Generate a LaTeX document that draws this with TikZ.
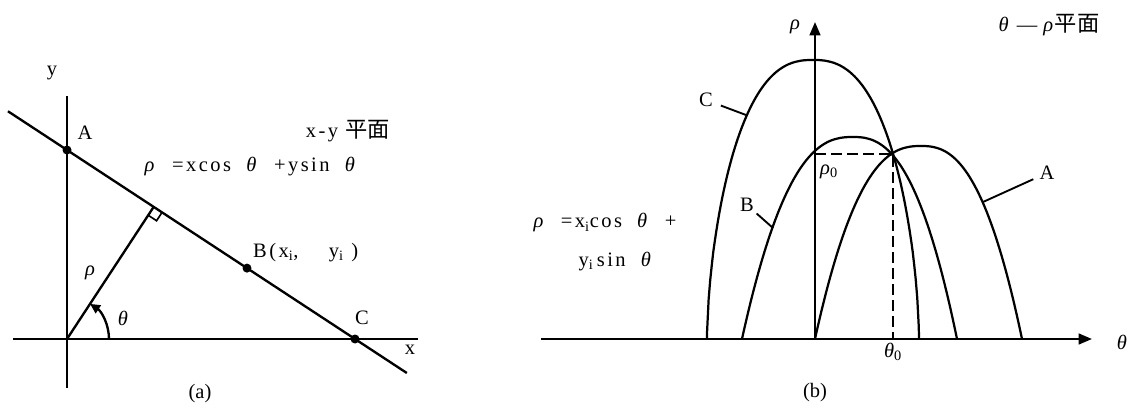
\documentclass[tikz,border=0pt]{standalone}
\usepackage{fontspec}
\setmainfont{Liberation Serif}
\newfontfamily\cjkfont{Noto Sans CJK SC}
\newfontfamily\widefont[LetterSpace=12]{Liberation Serif}
\usetikzlibrary{arrows.meta, calc}

\newcommand{\thet}{\textit{θ}}
\newcommand{\rh}{\textit{ρ}}
\newcommand{\han}[1]{{\cjkfont\fontsize{19}{21}\selectfont #1}}
% one curve of the theta-rho plane: centre, left half, right half, height, exponents p and q
\newcommand{\hump}[6]{%
  \draw[humpline] ({#1-#2},0)
    -- plot[domain=-0.999:-0.002, samples=70] ({#1+#2*\x},{#4*(1-abs(\x)^#5)^#6})
    -- plot[domain=0.002:0.999, samples=70] ({#1+#3*\x},{#4*(1-abs(\x)^#5)^#6})
    -- ({#1+#3},0);}

\begin{document}
\begin{tikzpicture}[x=0.3mm, y=0.3mm,
  stroke/.style={line width=2pt},
  humpline/.style={line width=1.9pt},
  leader/.style={line width=1.6pt},
  axisarrow/.style={stroke, -{Triangle[length=4mm, width=3.2mm]}},
  guide/.style={line width=1.8pt, dash pattern=on 3.3mm off 1.5mm},
  lbl/.style={inner sep=0pt, font=\fontsize{17.5}{20}\selectfont},
]
\useasboundingbox (0,0) rectangle (1131,407);

% (a) x-y plane
\begin{scope}[shift={(67,68)}]
\coordinate (O) at (0,0);
\coordinate (A) at (0,189);
\coordinate (C) at (288,0);
\coordinate (B) at ($(A)!0.625!(C)$);
\coordinate (L1) at ($(A)!-0.205!(C)$);
\coordinate (L2) at ($(A)!1.18!(C)$);
\coordinate (F) at ($(A)!(O)!(C)$);
\coordinate (yb) at (0,-49);
\coordinate (yt) at (0,243);
\coordinate (xl) at (-54,0);
\coordinate (xr) at (351,0);

\draw[stroke] (yb) -- (yt);
\draw[stroke] (xl) -- (xr);
\draw[stroke] (L1) -- (L2);
\draw[stroke] (O) -- (F);
\coordinate (r1) at ($(F)!3mm!(C)$);
\coordinate (r2) at ($(F)!3mm!(O)$);
\draw[line width=1.4pt] (r1) -- ($(r1)+(r2)-(F)$) -- (r2);
\draw[stroke, -{Triangle[length=3mm, width=2.8mm]}] (42,0) arc[start angle=0, end angle=56.7, radius=42];
\foreach \p in {A,B,C} \fill (\p) circle[radius=4.5];

\node[lbl] (ylab) at (-15,266) {y};
\node[lbl] (xlab) at (343,-11) {x};
\node[lbl] (Alab) at (18,206) {A};
\node[lbl] (Clab) at (295,21) {C};
\node[lbl, anchor=west] (Blab) at (186,86) {\widefont B(x\textsubscript{i},\ \ \ \ y\textsubscript{i}\ )};
\node[lbl] (rholab) at (23,66) {\rh};
\node[lbl] (thlab) at (56,21) {\thet};
\node[lbl] (xyplane) at (281,208) {\widefont x-y\ \han{平面}};
\node[lbl] (formula) at (184,172) {\widefont\rh\ \ =xcos\ \ \thet\ \ +ysin\ \ \thet};
\node[lbl] (capa) at (133,-55) {(a)};
\end{scope}

% (b) theta-rho plane
\begin{scope}[shift={(815,68)}]
\coordinate (O2) at (0,0);
\coordinate (tl) at (-274,0);
\coordinate (tr) at (277,0);
\coordinate (rt) at (0,317);
\coordinate (P) at (78,185);
\draw[axisarrow] (tl) -- (tr);
\draw[axisarrow] (O2) -- (rt);

\hump{-2}{106}{106}{279}{2.5}{0.6}
\hump{38}{111}{104}{202}{2.5}{1}
\hump{106}{106}{101}{193}{2.5}{1}

\draw[guide] (O2 |- P) -- (P) -- (P |- O2);

\node[lbl] (Clab2) at (-109,239) {C};
\node[lbl] (Blab2) at (-68,134) {B};
\node[lbl] (Alab2) at (232,166) {A};
\coordinate (Ctip) at (-69,224);
\coordinate (Btip) at (-42,111);
\coordinate (Atip) at (168,137);
\draw[leader, shorten <=2.5mm] (Clab2) -- (Ctip);
\draw[leader, shorten <=1mm] (Blab2) -- (Btip);
\draw[leader, shorten <=2mm] (Alab2) -- (Atip);

\node[lbl] (rholab2) at (-20,312) {\rh};
\node[lbl] (thlab2) at (307,-3) {\thet};
\node[lbl] (rho0) at (14,167) {\rh\textsubscript{0}};
\node[lbl] (th0) at (78,-13) {\thet\textsubscript{0}};
\node[lbl] (trplane) at (234,314) {\thet\hspace{2.5mm}—\hspace{1.8mm}\rh\hspace{0.5mm}\han{平面}};
\node[lbl] (eq1) at (-210,116) {\widefont\rh\ \ =x\textsubscript{i}cos\ \ \thet\ \ +};
\node[lbl] (eq2) at (-199,77) {\widefont y\textsubscript{i}\,sin\ \ \thet};
\node[lbl] (capb) at (0,-54) {(b)};
\end{scope}
\end{tikzpicture}
\end{document}
